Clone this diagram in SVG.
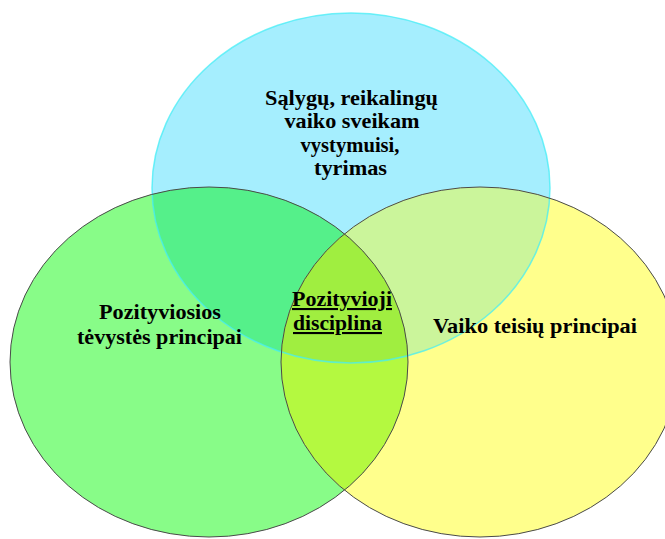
<svg xmlns="http://www.w3.org/2000/svg" width="665" height="539" viewBox="0 0 665 539">
  <style>
    .lbl { font-family: "Liberation Serif", Tinos, "Times New Roman", Times, "Noto Serif", "DejaVu Serif", FreeSerif, serif; font-weight: 700; font-size: 21px; fill: #000; }
    .mid { text-anchor: middle; }
    .outline { fill: none; stroke: #4a4a4a; stroke-width: 1; }
    .outline-cyan { fill: none; stroke: #45eef5; stroke-width: 1.5; stroke-opacity: 0.75; }
  </style>
  <defs>
    <clipPath id="cCyan"><ellipse cx="351" cy="188" rx="199" ry="175"/></clipPath>
    <clipPath id="cGreen"><ellipse cx="209" cy="362" rx="199" ry="175"/></clipPath>
  </defs>
  <rect width="665" height="539" fill="#ffffff"/>

  <g id="areas">
    <ellipse cx="351" cy="188" rx="199" ry="175" fill="#a5eefe"/>
    <ellipse cx="209" cy="362" rx="199" ry="175" fill="#88fc88"/>
    <ellipse cx="480" cy="362" rx="199" ry="175" fill="#ffff8c"/>
    <ellipse cx="209" cy="362" rx="199" ry="175" fill="#55f08a" clip-path="url(#cCyan)"/>
    <ellipse cx="480" cy="362" rx="199" ry="175" fill="#cbf59b" clip-path="url(#cCyan)"/>
    <ellipse cx="480" cy="362" rx="199" ry="175" fill="#b4f940" clip-path="url(#cGreen)"/>
    <g clip-path="url(#cCyan)">
      <ellipse cx="480" cy="362" rx="199" ry="175" fill="#a0ee40" clip-path="url(#cGreen)"/>
    </g>
  </g>

  <g id="node-conditions">
    <ellipse class="outline-cyan" cx="351" cy="188" rx="199" ry="175"/>
    <text class="lbl mid" x="351.5" y="105" textLength="173" lengthAdjust="spacingAndGlyphs">Sąlygų, reikalingų</text>
    <text class="lbl mid" x="352" y="128" textLength="135" lengthAdjust="spacingAndGlyphs">vaiko sveikam</text>
    <text class="lbl mid" x="350" y="152" textLength="99" lengthAdjust="spacingAndGlyphs">vystymuisi,</text>
    <text class="lbl mid" x="350.5" y="175" textLength="73" lengthAdjust="spacingAndGlyphs">tyrimas</text>
  </g>

  <g id="node-parenting">
    <ellipse class="outline" cx="209" cy="362" rx="199" ry="175"/>
    <text class="lbl mid" x="160" y="319" textLength="122" lengthAdjust="spacingAndGlyphs">Pozityviosios</text>
    <text class="lbl mid" x="159.5" y="344" textLength="165" lengthAdjust="spacingAndGlyphs">tėvystės principai</text>
  </g>

  <g id="node-rights">
    <ellipse class="outline" cx="480" cy="362" rx="199" ry="175"/>
    <text class="lbl mid" x="535" y="333" textLength="204" lengthAdjust="spacingAndGlyphs">Vaiko teisių principai</text>
  </g>

  <g id="node-discipline">
    <text class="lbl" x="292" y="306" textLength="100" lengthAdjust="spacingAndGlyphs" text-decoration="underline">Pozityvioji</text>
    <text class="lbl" x="293" y="330" textLength="89" lengthAdjust="spacingAndGlyphs" text-decoration="underline">disciplina</text>
  </g>
</svg>
